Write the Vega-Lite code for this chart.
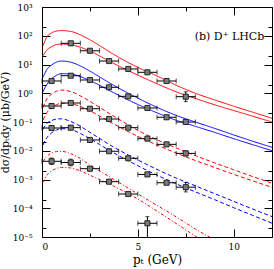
{
  "$schema": "https://vega.github.io/schema/vega-lite/v6.json",
  "width": 230,
  "height": 230,
  "autosize": {"type": "none"},
  "padding": {"left": 42, "top": 7, "right": 2, "bottom": 32},
  "config": {
    "view": {"stroke": "#000", "strokeWidth": 1},
    "axis": {"domain": false, "grid": false, "tickColor": "#000", "tickWidth": 1, "labelColor": "#000", "titleColor": "#000", "labelFont": "DejaVu Serif", "titleFont": "DejaVu Serif", "titleFontWeight": "normal", "labelFontSize": 9, "titleFontSize": 11}
  },
  "datasets": {
    "curves": [
      {"set":"A","edge":"u","x":0.05,"y":44.67},{"set":"A","edge":"u","x":0.25,"y":89.13},{"set":"A","edge":"u","x":0.5,"y":125.9},{"set":"A","edge":"u","x":0.75,"y":144.5},{"set":"A","edge":"u","x":1,"y":151.4},{"set":"A","edge":"u","x":1.5,"y":141.3},{"set":"A","edge":"u","x":2,"y":107.2},{"set":"A","edge":"u","x":2.5,"y":72.44},{"set":"A","edge":"u","x":3,"y":45.71},{"set":"A","edge":"u","x":3.5,"y":28.18},{"set":"A","edge":"u","x":4,"y":17.78},{"set":"A","edge":"u","x":5,"y":7.943},{"set":"A","edge":"u","x":6,"y":3.981},{"set":"A","edge":"u","x":7,"y":1.905},{"set":"A","edge":"u","x":8,"y":1},{"set":"A","edge":"u","x":9,"y":0.5888},{"set":"A","edge":"u","x":10,"y":0.3548},{"set":"A","edge":"u","x":11,"y":0.2188},{"set":"A","edge":"u","x":12,"y":0.1349},
      {"set":"A","edge":"l","x":0.05,"y":19.95},{"set":"A","edge":"l","x":0.25,"y":31.62},{"set":"A","edge":"l","x":0.5,"y":41.69},{"set":"A","edge":"l","x":0.75,"y":48.98},{"set":"A","edge":"l","x":1,"y":51.29},{"set":"A","edge":"l","x":1.5,"y":48.98},{"set":"A","edge":"l","x":2,"y":39.81},{"set":"A","edge":"l","x":2.5,"y":29.51},{"set":"A","edge":"l","x":3,"y":19.95},{"set":"A","edge":"l","x":3.5,"y":13.18},{"set":"A","edge":"l","x":4,"y":8.913},{"set":"A","edge":"l","x":5,"y":4.266},{"set":"A","edge":"l","x":6,"y":2.138},{"set":"A","edge":"l","x":7,"y":1.122},{"set":"A","edge":"l","x":8,"y":0.6607},{"set":"A","edge":"l","x":9,"y":0.3981},{"set":"A","edge":"l","x":10,"y":0.2512},{"set":"A","edge":"l","x":11,"y":0.1585},{"set":"A","edge":"l","x":12,"y":0.1},
      {"set":"B","edge":"u","x":0.05,"y":3.548},{"set":"B","edge":"u","x":0.25,"y":6.607},{"set":"B","edge":"u","x":0.5,"y":9.55},{"set":"B","edge":"u","x":0.75,"y":12.02},{"set":"B","edge":"u","x":1,"y":13.18},{"set":"B","edge":"u","x":1.5,"y":12.02},{"set":"B","edge":"u","x":2,"y":8.913},{"set":"B","edge":"u","x":2.5,"y":5.888},{"set":"B","edge":"u","x":3,"y":3.715},{"set":"B","edge":"u","x":3.5,"y":2.344},{"set":"B","edge":"u","x":4,"y":1.514},{"set":"B","edge":"u","x":5,"y":0.6761},{"set":"B","edge":"u","x":6,"y":0.3236},{"set":"B","edge":"u","x":7,"y":0.1698},{"set":"B","edge":"u","x":8,"y":0.1},{"set":"B","edge":"u","x":9,"y":0.06026},{"set":"B","edge":"u","x":10,"y":0.03548},{"set":"B","edge":"u","x":11,"y":0.02138},{"set":"B","edge":"u","x":12,"y":0.01318},
      {"set":"B","edge":"l","x":0.05,"y":1.122},{"set":"B","edge":"l","x":0.25,"y":1.995},{"set":"B","edge":"l","x":0.5,"y":3.162},{"set":"B","edge":"l","x":0.75,"y":4.169},{"set":"B","edge":"l","x":1,"y":4.786},{"set":"B","edge":"l","x":1.5,"y":4.677},{"set":"B","edge":"l","x":2,"y":3.802},{"set":"B","edge":"l","x":2.5,"y":2.754},{"set":"B","edge":"l","x":3,"y":1.905},{"set":"B","edge":"l","x":3.5,"y":1.259},{"set":"B","edge":"l","x":4,"y":0.8511},{"set":"B","edge":"l","x":5,"y":0.4074},{"set":"B","edge":"l","x":6,"y":0.2089},{"set":"B","edge":"l","x":7,"y":0.1148},{"set":"B","edge":"l","x":8,"y":0.07079},{"set":"B","edge":"l","x":9,"y":0.04365},{"set":"B","edge":"l","x":10,"y":0.0263},{"set":"B","edge":"l","x":11,"y":0.01622},{"set":"B","edge":"l","x":12,"y":0.01},
      {"set":"C","edge":"u","x":0.05,"y":0.3162},{"set":"C","edge":"u","x":0.25,"y":0.631},{"set":"C","edge":"u","x":0.5,"y":0.9333},{"set":"C","edge":"u","x":0.75,"y":1.175},{"set":"C","edge":"u","x":1,"y":1.288},{"set":"C","edge":"u","x":1.5,"y":1.148},{"set":"C","edge":"u","x":2,"y":0.8128},{"set":"C","edge":"u","x":2.5,"y":0.5248},{"set":"C","edge":"u","x":3,"y":0.3236},{"set":"C","edge":"u","x":3.5,"y":0.1995},{"set":"C","edge":"u","x":4,"y":0.1259},{"set":"C","edge":"u","x":5,"y":0.05129},{"set":"C","edge":"u","x":6,"y":0.02399},{"set":"C","edge":"u","x":7,"y":0.01259},{"set":"C","edge":"u","x":8,"y":0.006761},{"set":"C","edge":"u","x":9,"y":0.003802},{"set":"C","edge":"u","x":10,"y":0.002188},{"set":"C","edge":"u","x":11,"y":0.001259},{"set":"C","edge":"u","x":12,"y":0.0007413},
      {"set":"C","edge":"l","x":0.05,"y":0.1175},{"set":"C","edge":"l","x":0.25,"y":0.2089},{"set":"C","edge":"l","x":0.5,"y":0.3162},{"set":"C","edge":"l","x":0.75,"y":0.3981},{"set":"C","edge":"l","x":1,"y":0.4467},{"set":"C","edge":"l","x":1.5,"y":0.4365},{"set":"C","edge":"l","x":2,"y":0.3467},{"set":"C","edge":"l","x":2.5,"y":0.2455},{"set":"C","edge":"l","x":3,"y":0.1622},{"set":"C","edge":"l","x":3.5,"y":0.1047},{"set":"C","edge":"l","x":4,"y":0.06918},{"set":"C","edge":"l","x":5,"y":0.03162},{"set":"C","edge":"l","x":6,"y":0.01585},{"set":"C","edge":"l","x":7,"y":0.008318},{"set":"C","edge":"l","x":8,"y":0.004571},{"set":"C","edge":"l","x":9,"y":0.00263},{"set":"C","edge":"l","x":10,"y":0.001514},{"set":"C","edge":"l","x":11,"y":0.0008913},{"set":"C","edge":"l","x":12,"y":0.000537},
      {"set":"D","edge":"u","x":0.05,"y":0.05623},{"set":"D","edge":"u","x":0.25,"y":0.08913},{"set":"D","edge":"u","x":0.5,"y":0.1122},{"set":"D","edge":"u","x":0.75,"y":0.1259},{"set":"D","edge":"u","x":1,"y":0.1288},{"set":"D","edge":"u","x":1.5,"y":0.1047},{"set":"D","edge":"u","x":2,"y":0.07079},{"set":"D","edge":"u","x":2.5,"y":0.04365},{"set":"D","edge":"u","x":3,"y":0.02692},{"set":"D","edge":"u","x":3.5,"y":0.0166},{"set":"D","edge":"u","x":4,"y":0.01072},{"set":"D","edge":"u","x":5,"y":0.004786},{"set":"D","edge":"u","x":6,"y":0.002239},{"set":"D","edge":"u","x":7,"y":0.001122},{"set":"D","edge":"u","x":8,"y":0.0006026},{"set":"D","edge":"u","x":9,"y":0.0003236},{"set":"D","edge":"u","x":10,"y":0.0001738},{"set":"D","edge":"u","x":11,"y":0.00009333},{"set":"D","edge":"u","x":12,"y":0.00005129},
      {"set":"D","edge":"l","x":0.05,"y":0.01585},{"set":"D","edge":"l","x":0.25,"y":0.02818},{"set":"D","edge":"l","x":0.5,"y":0.04169},{"set":"D","edge":"l","x":0.75,"y":0.05248},{"set":"D","edge":"l","x":1,"y":0.05888},{"set":"D","edge":"l","x":1.5,"y":0.05495},{"set":"D","edge":"l","x":2,"y":0.03981},{"set":"D","edge":"l","x":2.5,"y":0.0263},{"set":"D","edge":"l","x":3,"y":0.0166},{"set":"D","edge":"l","x":3.5,"y":0.01047},{"set":"D","edge":"l","x":4,"y":0.006761},{"set":"D","edge":"l","x":5,"y":0.00302},{"set":"D","edge":"l","x":6,"y":0.001413},{"set":"D","edge":"l","x":7,"y":0.0007079},{"set":"D","edge":"l","x":8,"y":0.0003715},{"set":"D","edge":"l","x":9,"y":0.0001995},{"set":"D","edge":"l","x":10,"y":0.0001047},{"set":"D","edge":"l","x":11,"y":0.00005623},{"set":"D","edge":"l","x":12,"y":0.0000302},
      {"set":"E","edge":"u","x":0.05,"y":0.004169},{"set":"E","edge":"u","x":0.25,"y":0.00631},{"set":"E","edge":"u","x":0.5,"y":0.008318},{"set":"E","edge":"u","x":0.75,"y":0.009333},{"set":"E","edge":"u","x":1,"y":0.00955},{"set":"E","edge":"u","x":1.5,"y":0.007943},{"set":"E","edge":"u","x":2,"y":0.00537},{"set":"E","edge":"u","x":2.5,"y":0.003162},{"set":"E","edge":"u","x":3,"y":0.001995},{"set":"E","edge":"u","x":3.5,"y":0.001259},{"set":"E","edge":"u","x":4,"y":0.0007943},{"set":"E","edge":"u","x":5,"y":0.0003162},{"set":"E","edge":"u","x":6,"y":0.0001259},{"set":"E","edge":"u","x":7,"y":0.00005012},{"set":"E","edge":"u","x":8,"y":0.00001905},{"set":"E","edge":"u","x":9,"y":0.000007943},
      {"set":"E","edge":"l","x":0.05,"y":0.0007943},{"set":"E","edge":"l","x":0.25,"y":0.001413},{"set":"E","edge":"l","x":0.5,"y":0.001995},{"set":"E","edge":"l","x":0.75,"y":0.002399},{"set":"E","edge":"l","x":1,"y":0.00263},{"set":"E","edge":"l","x":1.5,"y":0.002512},{"set":"E","edge":"l","x":2,"y":0.001995},{"set":"E","edge":"l","x":2.5,"y":0.001413},{"set":"E","edge":"l","x":3,"y":0.001},{"set":"E","edge":"l","x":3.5,"y":0.0007079},{"set":"E","edge":"l","x":4,"y":0.0004786},{"set":"E","edge":"l","x":5,"y":0.0002089},{"set":"E","edge":"l","x":6,"y":0.00007943},{"set":"E","edge":"l","x":7,"y":0.00002951},{"set":"E","edge":"l","x":8,"y":0.00001072},{"set":"E","edge":"l","x":9,"y":0.000003981}
    ],
    "points": [
      {"s":1,"x":1.5,"xlo":1,"xhi":2,"y":54.6,"lo":48.7,"hi":61.2},
      {"s":1,"x":2.5,"xlo":2,"xhi":3,"y":30,"lo":26.7,"hi":33.6},
      {"s":1,"x":3.5,"xlo":3,"xhi":4,"y":13.2,"lo":11.8,"hi":14.8},
      {"s":1,"x":4.5,"xlo":4,"xhi":5,"y":7.0,"lo":6.2,"hi":7.8},
      {"s":1,"x":5.5,"xlo":5,"xhi":6,"y":5.35,"lo":4.77,"hi":6.0},
      {"s":1,"x":6.5,"xlo":6,"xhi":7,"y":2.67,"lo":2.38,"hi":3.0},
      {"s":1,"x":7.5,"xlo":7,"xhi":8,"y":0.76,"lo":0.51,"hi":1.13},
      {"s":2,"x":0.5,"xlo":0,"xhi":1,"y":2.67,"lo":2.38,"hi":3.0},
      {"s":2,"x":1.5,"xlo":1,"xhi":2,"y":4.07,"lo":3.63,"hi":4.57},
      {"s":2,"x":2.5,"xlo":2,"xhi":3,"y":2.89,"lo":2.58,"hi":3.24},
      {"s":2,"x":3.5,"xlo":3,"xhi":4,"y":1.61,"lo":1.43,"hi":1.8},
      {"s":2,"x":4.5,"xlo":4,"xhi":5,"y":0.78,"lo":0.7,"hi":0.87},
      {"s":2,"x":5.5,"xlo":5,"xhi":6,"y":0.307,"lo":0.274,"hi":0.344},
      {"s":2,"x":6.5,"xlo":6,"xhi":7,"y":0.146,"lo":0.13,"hi":0.164},
      {"s":2,"x":7.5,"xlo":7,"xhi":8,"y":0.1,"lo":0.089,"hi":0.112},
      {"s":3,"x":0.5,"xlo":0,"xhi":1,"y":0.36,"lo":0.3,"hi":0.43},
      {"s":3,"x":1.5,"xlo":1,"xhi":2,"y":0.458,"lo":0.41,"hi":0.51},
      {"s":3,"x":2.5,"xlo":2,"xhi":3,"y":0.29,"lo":0.26,"hi":0.325},
      {"s":3,"x":3.5,"xlo":3,"xhi":4,"y":0.127,"lo":0.113,"hi":0.142},
      {"s":3,"x":4.5,"xlo":4,"xhi":5,"y":0.0635,"lo":0.0566,"hi":0.0712},
      {"s":3,"x":5.5,"xlo":5,"xhi":6,"y":0.0263,"lo":0.0234,"hi":0.0295},
      {"s":3,"x":6.5,"xlo":6,"xhi":7,"y":0.0167,"lo":0.0149,"hi":0.0187},
      {"s":3,"x":7.5,"xlo":7,"xhi":8,"y":0.0081,"lo":0.0066,"hi":0.0099},
      {"s":4,"x":0.5,"xlo":0,"xhi":1,"y":0.0618,"lo":0.052,"hi":0.073},
      {"s":4,"x":1.5,"xlo":1,"xhi":2,"y":0.0635,"lo":0.054,"hi":0.075},
      {"s":4,"x":2.5,"xlo":2,"xhi":3,"y":0.0237,"lo":0.0211,"hi":0.0266},
      {"s":4,"x":3.5,"xlo":3,"xhi":4,"y":0.0096,"lo":0.0086,"hi":0.0108},
      {"s":4,"x":4.5,"xlo":4,"xhi":5,"y":0.00546,"lo":0.0049,"hi":0.0061},
      {"s":4,"x":5.5,"xlo":5,"xhi":6,"y":0.0015,"lo":0.00134,"hi":0.00168},
      {"s":4,"x":6.5,"xlo":6,"xhi":7,"y":0.00077,"lo":0.00067,"hi":0.00088},
      {"s":4,"x":7.5,"xlo":7,"xhi":8,"y":0.00054,"lo":0.00037,"hi":0.00079},
      {"s":5,"x":0.5,"xlo":0,"xhi":1,"y":0.0043,"lo":0.0033,"hi":0.0056},
      {"s":5,"x":1.5,"xlo":1,"xhi":2,"y":0.0039,"lo":0.003,"hi":0.0051},
      {"s":5,"x":2.5,"xlo":2,"xhi":3,"y":0.00238,"lo":0.002,"hi":0.00283},
      {"s":5,"x":3.5,"xlo":3,"xhi":4,"y":0.00084,"lo":0.00073,"hi":0.00097},
      {"s":5,"x":4.5,"xlo":4,"xhi":5,"y":0.000313,"lo":0.00028,"hi":0.00035},
      {"s":5,"x":5.5,"xlo":5,"xhi":6,"y":0.00003,"lo":0.000005,"hi":0.000051}
    ],
    "label": [{"x":11.6,"y":90,"t":"(b) D⁺ LHCb"}]
  },
  "layer": [
    {
      "data": {"name": "curves"},
      "mark": {"type": "line", "strokeWidth": 1, "clip": true, "interpolate": "monotone"},
      "encoding": {
        "x": {"field": "x", "type": "quantitative", "scale": {"domain": [0, 12], "nice": false, "zero": false},
              "axis": {"orient": "bottom", "values": [0, 5, 10], "tickSize": -8, "labelPadding": 13, "title": "pₜ (GeV)", "titleFontSize": 12, "titlePadding": 3}},
        "y": {"field": "y", "type": "quantitative", "scale": {"type": "log", "domain": [0.00001, 1000], "nice": false},
              "axis": {"orient": "left", "values": [0.00001, 0.0001, 0.001, 0.01, 0.1, 1, 10, 100, 1000], "tickSize": -8, "labelPadding": 18,
                       "labelExpr": "['10⁻⁵','10⁻⁴','10⁻³','10⁻²','10⁻¹','10⁰','10¹','10²','10³'][round(log(datum.value)/LN10)+5]",
                       "title": "dσ/dpₜdy (μb/GeV)", "titleFontSize": 11, "titlePadding": 2}},
        "color": {"field": "set", "type": "nominal", "scale": {"domain": ["A","B","C","D","E"], "range": ["#ff0000","#0000ff","#ff0000","#0000ff","#ff0000"]}, "legend": null},
        "strokeDash": {"field": "set", "type": "nominal", "scale": {"domain": ["A","B","C","D","E"], "range": [[1,0],[1,0],[4,2.5],[4,2.5],[3,2,1,2]]}, "legend": null},
        "detail": {"field": "edge"}
      }
    },
    {
      "data": {"name": "points"},
      "mark": {"type": "rule", "color": "#000", "strokeWidth": 1, "clip": true},
      "encoding": {
        "x": {"field": "xlo", "type": "quantitative", "axis": {"orient": "bottom", "values": [2.5, 7.5], "tickSize": -4, "labels": false, "title": null}},
        "x2": {"field": "xhi"},
        "y": {"field": "y", "type": "quantitative", "axis": {"orient": "left", "values": [0.00002, 0.0002, 0.002, 0.02, 0.2, 2, 20, 200], "tickSize": -4, "labels": false, "title": null}}
      }
    },
    {
      "data": {"name": "points"},
      "mark": {"type": "rule", "color": "#000", "strokeWidth": 1, "clip": true},
      "encoding": {
        "x": {"field": "x", "type": "quantitative", "axis": {"orient": "top", "values": [0, 5, 10], "tickSize": -8, "labels": false, "title": null}},
        "y": {"field": "lo", "type": "quantitative", "axis": {"orient": "right", "values": [0.00001, 0.0001, 0.001, 0.01, 0.1, 1, 10, 100, 1000], "tickSize": -8, "labels": false, "title": null}},
        "y2": {"field": "hi"}
      }
    },
    {
      "data": {"name": "points"},
      "transform": [{"fold": ["xlo", "xhi"], "as": ["k", "xv"]}],
      "mark": {"type": "tick", "orient": "vertical", "color": "#000", "size": 5, "thickness": 1},
      "encoding": {
        "x": {"field": "xv", "type": "quantitative", "axis": null},
        "y": {"field": "y", "type": "quantitative", "axis": null}
      }
    },
    {
      "data": {"name": "points"},
      "transform": [{"fold": ["lo", "hi"], "as": ["k", "yv"]}],
      "mark": {"type": "tick", "orient": "horizontal", "color": "#000", "size": 4, "thickness": 1, "clip": true},
      "encoding": {
        "x": {"field": "x", "type": "quantitative", "axis": null},
        "y": {"field": "yv", "type": "quantitative", "axis": null}
      }
    },
    {
      "data": {"name": "points"},
      "mark": {"type": "point", "shape": "square", "filled": true, "fill": "#7a7a7a", "stroke": "#1a1a1a", "strokeWidth": 0.9, "size": 26, "opacity": 1},
      "encoding": {
        "x": {"field": "x", "type": "quantitative", "axis": {"orient": "top", "values": [2.5, 7.5], "tickSize": -4, "labels": false, "title": null}},
        "y": {"field": "y", "type": "quantitative", "axis": {"orient": "right", "values": [0.00002, 0.0002, 0.002, 0.02, 0.2, 2, 20, 200], "tickSize": -4, "labels": false, "title": null}}
      }
    },
    {
      "data": {"name": "label"},
      "mark": {"type": "text", "align": "right", "baseline": "middle", "font": "DejaVu Serif", "fontSize": 11, "color": "#000"},
      "encoding": {
        "x": {"field": "x", "type": "quantitative", "axis": null},
        "y": {"field": "y", "type": "quantitative", "axis": null},
        "text": {"field": "t"}
      }
    }
  ],
  "resolve": {"axis": {"x": "independent", "y": "independent"}}
}
